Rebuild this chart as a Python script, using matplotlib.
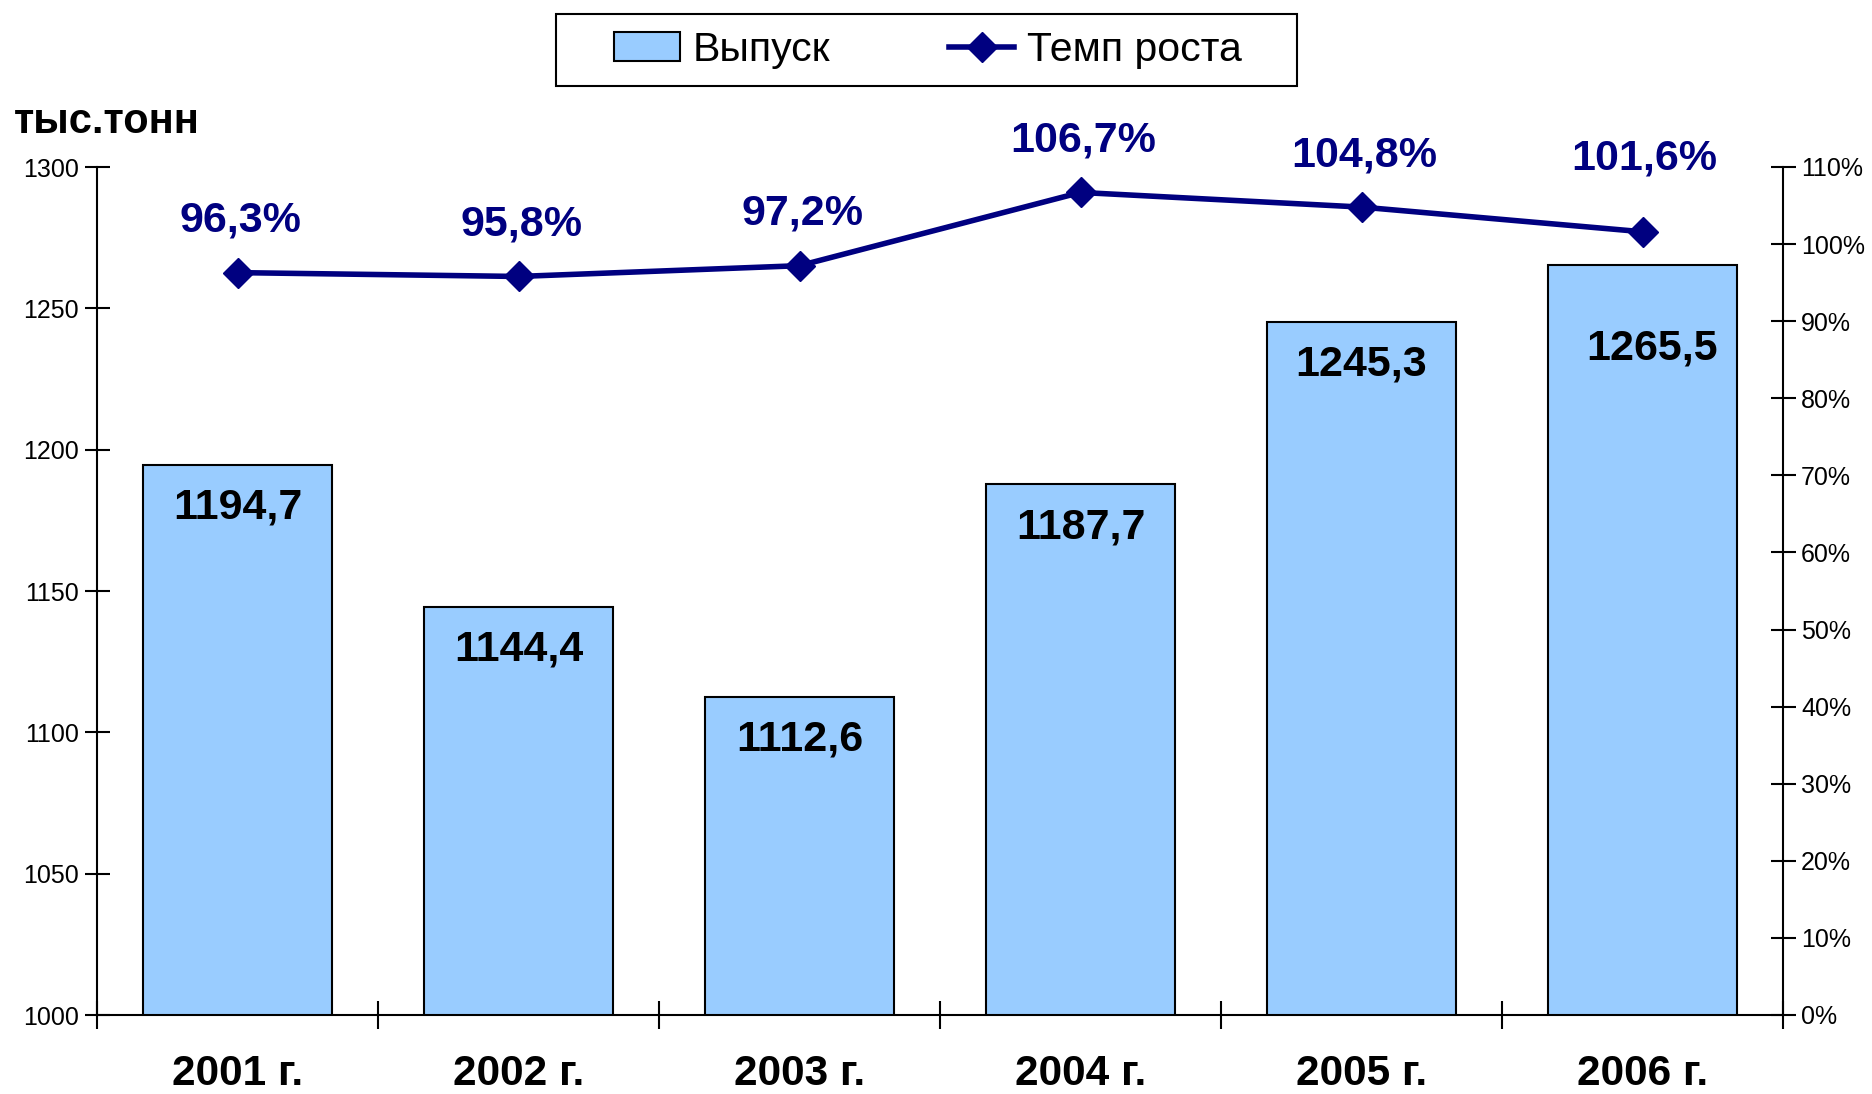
import matplotlib
matplotlib.use("Agg")
import matplotlib.pyplot as plt
from matplotlib.ticker import FuncFormatter, MultipleLocator
from matplotlib.patches import Rectangle

plt.rcParams['font.family'] = ['Liberation Sans', 'DejaVu Sans']

years = ["2001 г.", "2002 г.", "2003 г.", "2004 г.", "2005 г.", "2006 г."]
output = [1194.7, 1144.4, 1112.6, 1187.7, 1245.3, 1265.5]
growth = [96.3, 95.8, 97.2, 106.7, 104.8, 101.6]

W, H = 1872, 1094
fig = plt.figure(figsize=(W / 100, H / 100), dpi=100)
ax = fig.add_axes([97/W, 1 - 1015/H, (1783 - 97)/W, (1015 - 167)/H])
ax2 = ax.twinx()

x = list(range(len(years)))
bars = ax.bar(x, output, width=0.67, bottom=0, color="#99CCFF", edgecolor="black",
              linewidth=1.5, label="Выпуск", zorder=2)
ax.set_ylim(1000, 1300)
ax.set_xlim(-0.5, len(years) - 0.5)
ax.yaxis.set_major_locator(MultipleLocator(50))
ax.set_xticks([i - 0.5 for i in range(len(years) + 1)])
ax.set_xticklabels([])
for i, y in enumerate(years):
    ax.text(i, -0.069, y, transform=ax.get_xaxis_transform(), ha="center", va="center",
            fontsize=30.5, fontweight="bold")
n = len(output)
for i, v in enumerate(output):
    off = (10, -84) if i == n - 1 else (0, -43)
    ax.annotate(f"{v:.1f}".replace(".", ","), (i, v), xytext=off,
                textcoords="offset pixels", ha="center", va="center",
                fontsize=31, fontweight="bold", zorder=5)

line, = ax2.plot(x, growth, color="#000080", linewidth=4, marker="D", markersize=15,
                 label="Темп роста", zorder=4)
ax2.set_ylim(0, 110)
ax2.yaxis.set_major_locator(MultipleLocator(10))
ax2.yaxis.set_major_formatter(FuncFormatter(lambda v, p: f"{int(round(v))}%"))
for i, g in enumerate(growth):
    off = (2, 73) if i == n - 1 else (3, 52)
    ax2.annotate(f"{g:.1f}%".replace(".", ","), (i, g), xytext=off,
                 textcoords="offset pixels", ha="center", va="center",
                 fontsize=31, fontweight="bold", color="#000080")

for a in (ax, ax2):
    a.spines["top"].set_visible(False)
    for s in a.spines.values():
        s.set_linewidth(1.5)
ax.spines["right"].set_visible(False)
ax2.spines["left"].set_visible(False)
ax2.spines["bottom"].set_visible(False)
ax.tick_params(axis="y", direction="inout", length=18, width=1.5, labelsize=18, pad=4)
ax.tick_params(axis="x", direction="inout", length=20, width=1.5)
ax2.tick_params(axis="y", direction="inout", length=18, width=1.5, labelsize=18, pad=4)

fig.text(14/W, 1 - 122/H, "тыс.тонн", fontsize=30, fontweight="bold", ha="left", va="center")

leg = fig.legend(handles=[bars, line], labels=["Выпуск", "Темп роста"], loc="center",
                 bbox_to_anchor=(928/W, 1 - 50/H), ncol=2, fontsize=29.5,
                 frameon=False, columnspacing=2.9,
                 handlelength=1.6, handletextpad=0.3, borderpad=0.3)
fig.patches.append(Rectangle((556/W, 1 - 86/H), (1297 - 556)/W, 72/H, transform=fig.transFigure,
                             fill=False, edgecolor="black", linewidth=1.5))

fig.savefig("out.png", dpi=100)
